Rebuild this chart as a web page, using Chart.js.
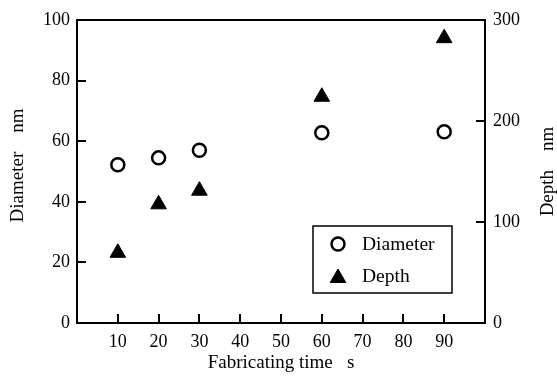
<!DOCTYPE html>
<html>
<head>
<meta charset="utf-8">
<script src="https://cdn.jsdelivr.net/npm/chart.js@4.4.1/dist/chart.umd.min.js"></script>
<style>
  html, body { margin: 0; padding: 0; background: #fff; }
  #wrap { width: 557px; height: 383px; }
</style>
</head>
<body>
<div id="wrap"><canvas id="scatter-chart" width="557" height="383"></canvas></div>
<script>
  // Fabricating time (s) and measured values
  const times = [10, 20, 30, 60, 90];
  const diameter = [52.2, 54.5, 57.0, 62.8, 63.1];
  const depth = [69.5, 117.5, 131, 224, 282];
  const xTicks = [10, 20, 30, 40, 50, 60, 70, 80, 90];
  const leftTicks = [20, 40, 60, 80];
  const rightTicks = [100, 200];

  const serif = "'Liberation Serif', 'Times New Roman', serif";

  // Inward tick marks, closed frame, y titles and the boxed legend
  const framePlugin = {
    id: "frame",
    afterDraw(chart) {
      const ctx = chart.ctx;
      const area = chart.chartArea;
      const x = chart.scales.x, y = chart.scales.y, y2 = chart.scales.y2;
      const tick = 9;
      ctx.save();
      ctx.strokeStyle = "#000";
      ctx.lineWidth = 2;
      ctx.beginPath();
      ctx.moveTo(area.left - 1, area.top);
      ctx.lineTo(area.right + 1, area.top);
      xTicks.forEach(v => {
        const px = Math.round(x.getPixelForValue(v));
        ctx.moveTo(px, area.bottom);
        ctx.lineTo(px, area.bottom - tick);
      });
      leftTicks.forEach(v => {
        const py = Math.round(y.getPixelForValue(v));
        ctx.moveTo(area.left, py);
        ctx.lineTo(area.left + tick, py);
      });
      rightTicks.forEach(v => {
        const py = Math.round(y2.getPixelForValue(v));
        ctx.moveTo(area.right, py);
        ctx.lineTo(area.right - tick, py);
      });
      ctx.stroke();

      // axis titles, both reading upward
      ctx.fillStyle = "#000";
      ctx.font = "19px " + serif;
      ctx.textAlign = "center";
      ctx.textBaseline = "middle";
      ctx.save();
      ctx.translate(18, (area.top + area.bottom) / 2 - 6);
      ctx.rotate(-Math.PI / 2);
      ctx.fillText("Diameter    nm", 0, 0);
      ctx.restore();
      ctx.save();
      ctx.translate(548, (area.top + area.bottom) / 2);
      ctx.rotate(-Math.PI / 2);
      ctx.fillText("Depth    nm", 0, 0);
      ctx.restore();

      // legend box
      const bx = area.right - 172, by = area.bottom - 97, bw = 139, bh = 67;
      ctx.lineWidth = 1.5;
      ctx.strokeRect(bx, by, bw, bh);
      ctx.textAlign = "left";
      ctx.font = "19.5px " + serif;
      chart.data.datasets.forEach((ds, i) => {
        const cy = by + 18 + i * 32;
        const cx = bx + 25;
        ctx.lineWidth = ds.borderWidth;
        ctx.fillStyle = ds.backgroundColor;
        ctx.strokeStyle = ds.borderColor;
        Chart.helpers.drawPoint(ctx, {
          pointStyle: ds.pointStyle,
          radius: ds.pointRadius,
          borderWidth: ds.borderWidth
        }, cx, cy + (ds.pointStyle === "triangle" ? 2 : 0));
        ctx.fillStyle = "#000";
        ctx.fillText(ds.label, bx + 49, cy + 1);
      });
      ctx.restore();
    }
  };

  const ctx = document.getElementById("scatter-chart").getContext("2d");
  const chart = new Chart(ctx, {
    type: "scatter",
    data: {
      datasets: [{
        label: "Diameter",
        data: times.map((t, i) => ({ x: t, y: diameter[i] })),
        yAxisID: "y",
        pointStyle: "circle",
        pointRadius: 6.5,
        borderWidth: 2.5,
        borderColor: "#000",
        backgroundColor: "#fff"
      }, {
        label: "Depth",
        data: times.map((t, i) => ({ x: t, y: depth[i] })),
        yAxisID: "y2",
        pointStyle: "triangle",
        pointRadius: 9,
        borderWidth: 1,
        borderColor: "#000",
        backgroundColor: "#000"
      }]
    },
    options: {
      responsive: false,
      animation: false,
      layout: { padding: { top: 20, right: 0, left: 0, bottom: 0 } },
      plugins: {
        legend: { display: false },
        tooltip: { enabled: false }
      },
      scales: {
        x: {
          type: "linear",
          min: 0,
          max: 100,
          afterFit(scale) { scale.height = 60; },
          grid: { display: false, drawTicks: false },
          border: { display: true, color: "#000", width: 2 },
          ticks: {
            stepSize: 10,
            padding: 8,
            color: "#000",
            font: { family: serif, size: 18 },
            callback: v => (v === 0 || v === 100) ? "" : v
          },
          title: {
            display: true,
            text: "Fabricating time   s",
            color: "#000",
            font: { family: serif, size: 19 },
            padding: { top: 0, bottom: 9 }
          }
        },
        y: {
          position: "left",
          min: 0,
          max: 100,
          afterFit(scale) { scale.width = 77; },
          grid: { display: false, drawTicks: false },
          border: { display: true, color: "#000", width: 2 },
          ticks: {
            stepSize: 20,
            padding: 7,
            color: "#000",
            font: { family: serif, size: 18 }
          }
        },
        y2: {
          position: "right",
          min: 0,
          max: 300,
          afterFit(scale) { scale.width = 72; },
          grid: { display: false, drawTicks: false },
          border: { display: true, color: "#000", width: 2 },
          ticks: {
            stepSize: 100,
            padding: 8,
            color: "#000",
            font: { family: serif, size: 18 }
          }
        }
      }
    },
    plugins: [framePlugin]
  });
</script>
</body>
</html>
